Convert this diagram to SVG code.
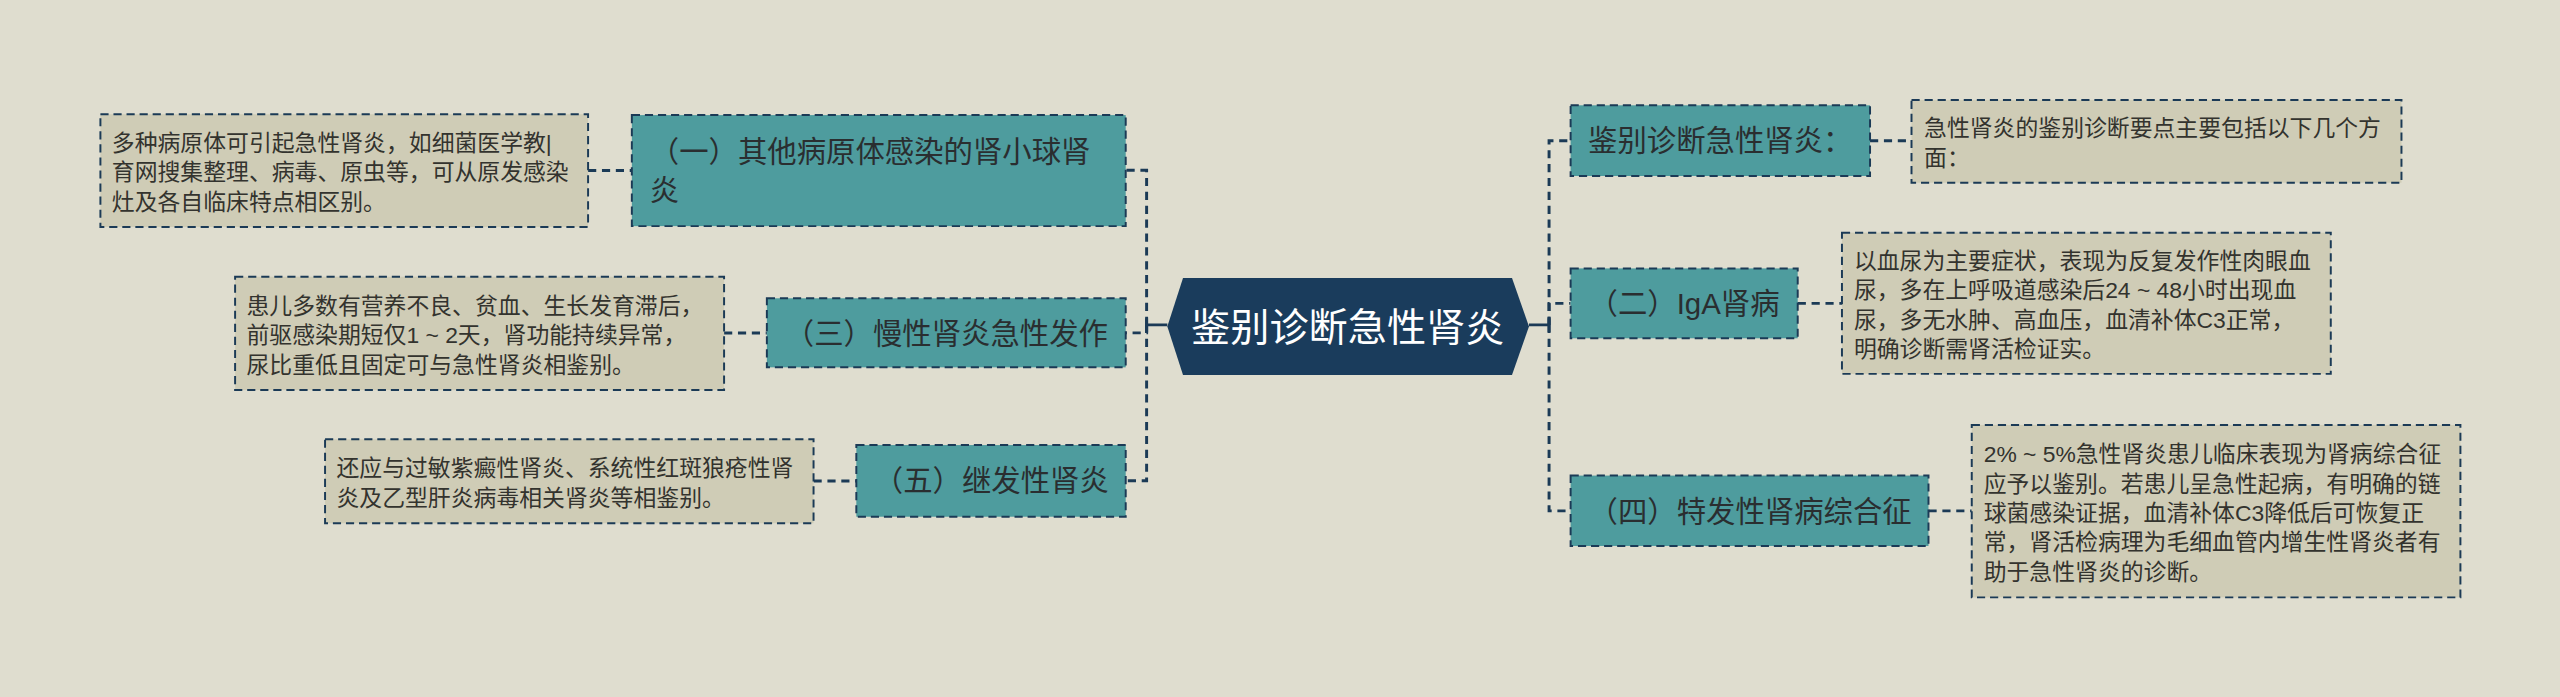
<svg xmlns="http://www.w3.org/2000/svg" width="2560" height="697" viewBox="0 0 2560 697">
<style>
.bg{fill:#DFDDCF}
.topic{fill:#4E9C9E;stroke:#1B3A56;stroke-width:1.2;stroke-dasharray:5 3}
.leaf{fill:#CFCCB6;stroke:#1B3A56;stroke-width:1.2;stroke-dasharray:5 3}
.center{fill:#1A3C5C}
.tt{font-family:"Liberation Sans","Noto Sans CJK SC",sans-serif;font-size:18px;fill:#2A2E30}
.lt{font-family:"Liberation Sans","Noto Sans CJK SC",sans-serif;font-size:14px;fill:#33332E}
.ct{font-family:"Liberation Sans","Noto Sans CJK SC",sans-serif;font-size:24px;fill:#FFFFFF}
.dash{fill:none;stroke:#1B3A56;stroke-width:1.8;stroke-dasharray:5 3.5}
.solid{fill:none;stroke:#1B3A56;stroke-width:1.8}
</style>
<rect class="bg" x="0" y="0" width="2560" height="697"/>
<g transform="scale(1.632653)">
<g id="connectors">
<path class="solid" d="M715,199 H702.3 M702.3,195 V203.5"/>
<path class="dash" d="M702.3,199 V104.3 H689.5"/>
<path class="dash" d="M702.3,199 V203.9 H689.5"/>
<path class="dash" d="M702.3,199 V294.5 H689.5"/>
<path class="solid" d="M936.5,199 H948.8 M948.8,195 V203.5"/>
<path class="dash" d="M948.8,199 V86.2 H962"/>
<path class="dash" d="M948.8,199 V185.8 H962"/>
<path class="dash" d="M948.8,199 V312.9 H962"/>
<path class="dash" d="M360.2,104.4 H387"/>
<path class="dash" d="M443.5,204 H469.7"/>
<path class="dash" d="M498.3,294.6 H524.5"/>
<path class="dash" d="M1145.4,86.2 H1170.8"/>
<path class="dash" d="M1101.1,185.8 H1128.2"/>
<path class="dash" d="M1181.2,312.9 H1207.7"/>
</g>
<g id="center">
<polygon class="center" points="715,200 724.6,170.3 926.1,170.3 936.5,200 926.1,229.7 724.6,229.7"/>
<text class="ct" x="825.5" y="208.8" text-anchor="middle">鉴别诊断急性肾炎</text>
</g>
<g id="t1">
<rect class="topic" x="387" y="70.5" width="302.5" height="68"/>
<text class="tt" x="398" y="99.3">（一）其他病原体感染的肾小球肾</text>
<text class="tt" x="398" y="123.3">炎</text>
</g>
<g id="l1">
<rect class="leaf" x="61.5" y="70" width="298.7" height="69"/>
<text class="lt" x="68.5" y="92.5">多种病原体可引起急性肾炎，如细菌医学教|</text>
<text class="lt" x="68.5" y="110.5">育网搜集整理、病毒、原虫等，可从原发感染</text>
<text class="lt" x="68.5" y="128.5">灶及各自临床特点相区别。</text>
</g>
<g id="t3">
<rect class="topic" x="469.7" y="182.7" width="219.8" height="42.3"/>
<text class="tt" x="480.7" y="210.4">（三）慢性肾炎急性发作</text>
</g>
<g id="l3">
<rect class="leaf" x="144" y="169.5" width="299.5" height="69.4"/>
<text class="lt" x="151" y="192.2">患儿多数有营养不良、贫血、生长发育滞后，</text>
<text class="lt" x="151" y="210.2">前驱感染期短仅1 ~ 2天，肾功能持续异常，</text>
<text class="lt" x="151" y="228.2">尿比重低且固定可与急性肾炎相鉴别。</text>
</g>
<g id="t5">
<rect class="topic" x="524.5" y="272.6" width="165" height="43.9"/>
<text class="tt" x="535.2" y="301">（五）继发性肾炎</text>
</g>
<g id="l5">
<rect class="leaf" x="199.1" y="269.1" width="299.2" height="51.4"/>
<text class="lt" x="206.1" y="291.8">还应与过敏紫癜性肾炎、系统性红斑狼疮性肾</text>
<text class="lt" x="206.1" y="309.8">炎及乙型肝炎病毒相关肾炎等相鉴别。</text>
</g>
<g id="r1">
<rect class="topic" x="962" y="64.5" width="183.4" height="43.3"/>
<text class="tt" x="972.7" y="92.7">鉴别诊断急性肾炎：</text>
</g>
<g id="rl1">
<rect class="leaf" x="1170.8" y="61.3" width="300.1" height="50.6"/>
<text class="lt" x="1178.5" y="83.6">急性肾炎的鉴别诊断要点主要包括以下几个方</text>
<text class="lt" x="1178.5" y="101.6">面：</text>
</g>
<g id="r2">
<rect class="topic" x="962" y="164.4" width="139.1" height="42.8"/>
<text class="tt" x="973" y="192.4">（二）IgA肾病</text>
</g>
<g id="rl2">
<rect class="leaf" x="1128.2" y="142.5" width="299.4" height="86.5"/>
<text class="lt" x="1135.5" y="164.8">以血尿为主要症状，表现为反复发作性肉眼血</text>
<text class="lt" x="1135.5" y="182.8">尿，多在上呼吸道感染后24 ~ 48小时出现血</text>
<text class="lt" x="1135.5" y="200.8">尿，多无水肿、高血压，血清补体C3正常，</text>
<text class="lt" x="1135.5" y="218.8">明确诊断需肾活检证实。</text>
</g>
<g id="r4">
<rect class="topic" x="962" y="291.3" width="219.2" height="43.1"/>
<text class="tt" x="973" y="319.5">（四）特发性肾病综合征</text>
</g>
<g id="rl4">
<rect class="leaf" x="1207.7" y="260.3" width="299.3" height="105.6"/>
<text class="lt" x="1215" y="283.1">2% ~ 5%急性肾炎患儿临床表现为肾病综合征</text>
<text class="lt" x="1215" y="301.1">应予以鉴别。若患儿呈急性起病，有明确的链</text>
<text class="lt" x="1215" y="319.1">球菌感染证据，血清补体C3降低后可恢复正</text>
<text class="lt" x="1215" y="337.1">常，肾活检病理为毛细血管内增生性肾炎者有</text>
<text class="lt" x="1215" y="355.1">助于急性肾炎的诊断。</text>
</g>
</g>
</svg>
